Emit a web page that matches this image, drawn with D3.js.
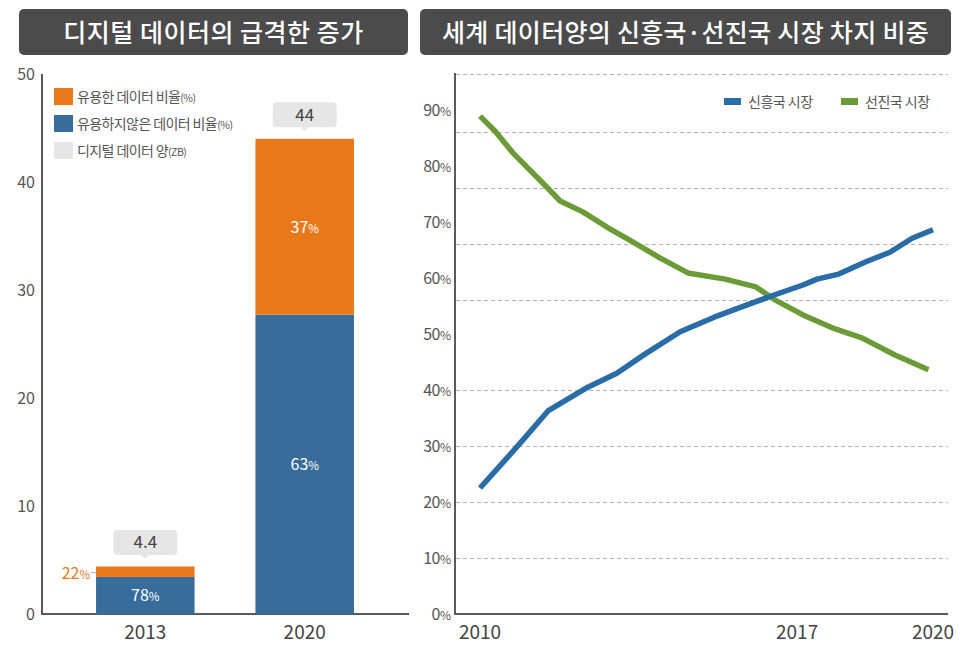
<!DOCTYPE html>
<html><head><meta charset="utf-8">
<script src="https://cdn.jsdelivr.net/npm/d3@7"></script>
<style>
html,body{margin:0;padding:0;background:#fff;}
svg{display:block;font-family:"Noto Sans CJK KR","Noto Sans",sans-serif;}
</style></head>
<body><svg id="c" width="966" height="650"></svg>
<script>
// ---------- data ----------
const leftTitle = "디지털 데이터의 급격한 증가";
const rightTitle = "세계 데이터양의 신흥국·선진국 시장 차지 비중";

const barYears = ["2013", "2020"];
const totalZB = [4.4, 44];
const usefulPct = [22, 37];
const notUsefulPct = [78, 63];
const leftTicks = [0, 10, 20, 30, 40, 50];
const leftLegend = [
  {main: "유용한 데이터 비율", sub: "(%)", key: "useful"},
  {main: "유용하지않은 데이터 비율", sub: "(%)", key: "not"},
  {main: "디지털 데이터 양", sub: "(ZB)", key: "total"}
];

const emergingYears = [2010.0, 2010.38, 2010.93, 2011.5, 2012.38, 2013.02, 2013.64, 2014.42, 2015.17, 2016.0, 2016.51, 2017.13, 2017.44, 2017.92, 2018.52, 2019.05, 2019.54, 2020.0];
const emergingPct   = [22.5, 25.9, 30.9, 36.25, 40.5, 43.0, 46.4, 50.4, 53.0, 55.5, 57.0, 58.75, 59.8, 60.7, 62.9, 64.6, 67.1, 68.6];
const developedYears = [2010.0, 2010.33, 2010.73, 2011.32, 2011.77, 2012.27, 2012.8, 2013.38, 2013.97, 2014.59, 2015.41, 2016.09, 2016.51, 2017.13, 2017.84, 2018.43, 2019.16, 2019.9];
const developedPct   = [88.9, 86.25, 82.3, 77.5, 73.75, 71.8, 69.1, 66.4, 63.6, 60.9, 59.8, 58.4, 56.1, 53.4, 50.9, 49.3, 46.25, 43.6];
const rightTicks = [0, 10, 20, 30, 40, 50, 60, 70, 80, 90];
const rightGrid = [10, 20, 30, 40, 56, 66, 76, 86, 96.5];
const xTickYears = [2010, 2017, 2020];
const seriesNames = ["신흥국 시장", "선진국 시장"];

// ---------- styles ----------
const C = {
  title: "#4b4b4b", orange: "#e8791b", blue: "#386c9a", gray: "#e6e6e6",
  text: "#555", axis: "#5a5a5a", lineBlue: "#2a6ca6", lineGreen: "#6b9b37", grid: "#b0b0b0"
};

const svg = d3.select("#c");

// ---------- titles ----------
function titleBox(x0, x1, txt, ls) {
  svg.append("rect").attr("x", x0).attr("y", 9).attr("width", x1 - x0).attr("height", 46)
    .attr("rx", 5).attr("fill", C.title);
  svg.append("text").attr("x", (x0 + x1) / 2).attr("y", 41.5).attr("text-anchor", "middle")
    .attr("fill", "#fff").attr("font-size", 25).attr("font-weight", 500)
    .attr("letter-spacing", ls).text(txt);
}
titleBox(19, 408, leftTitle, 0.5);
titleBox(420, 951, rightTitle, 0.3);

// ---------- left chart ----------
const yL = d3.scaleLinear().domain([0, 50]).range([614, 74]);
const xL = d3.scaleBand().domain(barYears).range([42, 408]).paddingInner(0.382).paddingOuter(0.339);
const gL = svg.append("g");

gL.append("line").attr("x1", 42).attr("x2", 42).attr("y1", yL(50)).attr("y2", yL(0))
  .attr("stroke", C.axis).attr("stroke-width", 2);
gL.append("line").attr("x1", 41).attr("x2", 409).attr("y1", yL(0)).attr("y2", yL(0))
  .attr("stroke", C.axis).attr("stroke-width", 2);
gL.selectAll("text.yt").data(leftTicks).join("text").attr("class", "yt")
  .attr("x", 35).attr("y", d => yL(d) + 6).attr("text-anchor", "end")
  .attr("font-size", 16).attr("fill", C.text).text(d => d);
gL.selectAll("text.xt").data(barYears).join("text").attr("class", "xt")
  .attr("x", d => xL(d) + xL.bandwidth() / 2).attr("y", 639).attr("text-anchor", "middle")
  .attr("font-size", 19).attr("fill", "#444").text(d => d);

const bars = barYears.map((yr, i) => ({
  yr, total: totalZB[i], useful: usefulPct[i], not: notUsefulPct[i],
  notVal: totalZB[i] * notUsefulPct[i] / 100
}));
gL.selectAll("rect.b").data(bars).join("rect").attr("class", "b")
  .attr("x", d => xL(d.yr)).attr("width", xL.bandwidth())
  .attr("y", d => yL(d.notVal)).attr("height", d => yL(0) - yL(d.notVal)).attr("fill", C.blue);
gL.selectAll("rect.o").data(bars).join("rect").attr("class", "o")
  .attr("x", d => xL(d.yr)).attr("width", xL.bandwidth())
  .attr("y", d => yL(d.total)).attr("height", d => yL(d.notVal) - yL(d.total)).attr("fill", C.orange);

function pctText(sel, num, fs) {
  sel.append("tspan").attr("font-size", fs).text(num);
  sel.append("tspan").attr("font-size", fs * 0.72).text("%");
}
bars.forEach(d => {
  const cx = xL(d.yr) + xL.bandwidth() / 2;
  const by = (yL(d.notVal) + yL(0)) / 2;
  pctText(gL.append("text").attr("x", cx).attr("y", by + 6).attr("text-anchor", "middle").attr("fill", "#fff"), d.not, 16);
  const oh = yL(d.notVal) - yL(d.total);
  const oy = (yL(d.notVal) + yL(d.total)) / 2;
  if (oh > 24) {
    pctText(gL.append("text").attr("x", cx).attr("y", oy + 6).attr("text-anchor", "middle").attr("fill", "#fff"), d.useful, 16);
  } else {
    pctText(gL.append("text").attr("x", xL(d.yr) - 6).attr("y", oy + 7).attr("text-anchor", "end").attr("fill", C.orange), d.useful, 16);
    gL.append("line").attr("x1", xL(d.yr) - 5).attr("x2", xL(d.yr)).attr("y1", oy + 1).attr("y2", oy + 1)
      .attr("stroke", "#aaa").attr("stroke-width", 1);
  }
  const bw = 64, bh = 25, bottom = yL(d.total) - 11.5;
  gL.append("rect").attr("x", cx - bw / 2).attr("y", bottom - bh).attr("width", bw).attr("height", bh)
    .attr("rx", 4).attr("fill", C.gray);
  gL.append("path").attr("d", `M${cx - 4},${bottom} L${cx},${bottom + 4} L${cx + 4},${bottom} Z`).attr("fill", C.gray);
  gL.append("text").attr("x", cx).attr("y", bottom - 6.5).attr("text-anchor", "middle")
    .attr("font-size", 17).attr("fill", "#444").text(d.total);
});

const legColor = {useful: C.orange, not: C.blue, total: C.gray};
leftLegend.forEach((d, i) => {
  const y = 88 + i * 27;
  gL.append("rect").attr("x", 54).attr("y", y).attr("width", 19).attr("height", 17).attr("fill", legColor[d.key]);
  const t = gL.append("text").attr("x", 77).attr("y", y + 14).attr("fill", C.text);
  t.append("tspan").attr("font-size", 14).attr("letter-spacing", -0.6).text(d.main);
  t.append("tspan").attr("font-size", 10.5).attr("letter-spacing", -0.5).text(d.sub);
});

// ---------- right chart ----------
const xR = d3.scaleLinear().domain([2010, 2020]).range([480, 933]);
const yR = d3.scaleLinear().domain([0, 96.6]).range([614, 73]);
const gR = svg.append("g");

gR.selectAll("line.grid").data(rightGrid).join("line").attr("class", "grid")
  .attr("x1", 456).attr("x2", 948).attr("y1", d => Math.round(yR(d)) + 0.5).attr("y2", d => Math.round(yR(d)) + 0.5)
  .attr("stroke", C.grid).attr("stroke-width", 1).attr("stroke-dasharray", "4,3");
gR.append("line").attr("x1", 455).attr("x2", 455).attr("y1", yR(96.6)).attr("y2", yR(0))
  .attr("stroke", C.axis).attr("stroke-width", 2);
gR.append("line").attr("x1", 454).attr("x2", 948).attr("y1", yR(0)).attr("y2", yR(0))
  .attr("stroke", C.axis).attr("stroke-width", 2);

rightTicks.forEach(v => {
  const t = gR.append("text").attr("x", 451).attr("y", yR(v) + 6).attr("text-anchor", "end").attr("fill", C.text);
  t.append("tspan").attr("font-size", 16).attr("letter-spacing", -0.5).text(v);
  t.append("tspan").attr("font-size", 12).text("%");
});
gR.selectAll("text.xt").data(xTickYears).join("text").attr("class", "xt")
  .attr("x", d => xR(d)).attr("y", 639).attr("text-anchor", "middle")
  .attr("font-size", 19).attr("fill", "#444").text(d => d);

const line = d3.line().x(d => xR(d[0])).y(d => yR(d[1]));
const emerging = emergingYears.map((y, i) => [y, emergingPct[i]]);
const developed = developedYears.map((y, i) => [y, developedPct[i]]);
gR.append("path").datum(developed).attr("d", line).attr("fill", "none")
  .attr("stroke", C.lineGreen).attr("stroke-width", 5.5).attr("stroke-linejoin", "round");
gR.append("path").datum(emerging).attr("d", line).attr("fill", "none")
  .attr("stroke", C.lineBlue).attr("stroke-width", 5.5).attr("stroke-linejoin", "round");

[[724, C.lineBlue, seriesNames[0]], [841, C.lineGreen, seriesNames[1]]].forEach(([x, col, name]) => {
  gR.append("rect").attr("x", x).attr("y", 98).attr("width", 17).attr("height", 7).attr("fill", col);
  gR.append("text").attr("x", x + 24).attr("y", 107).attr("font-size", 14).attr("fill", C.text)
    .attr("letter-spacing", -0.5).text(name);
});
</script></body></html>
